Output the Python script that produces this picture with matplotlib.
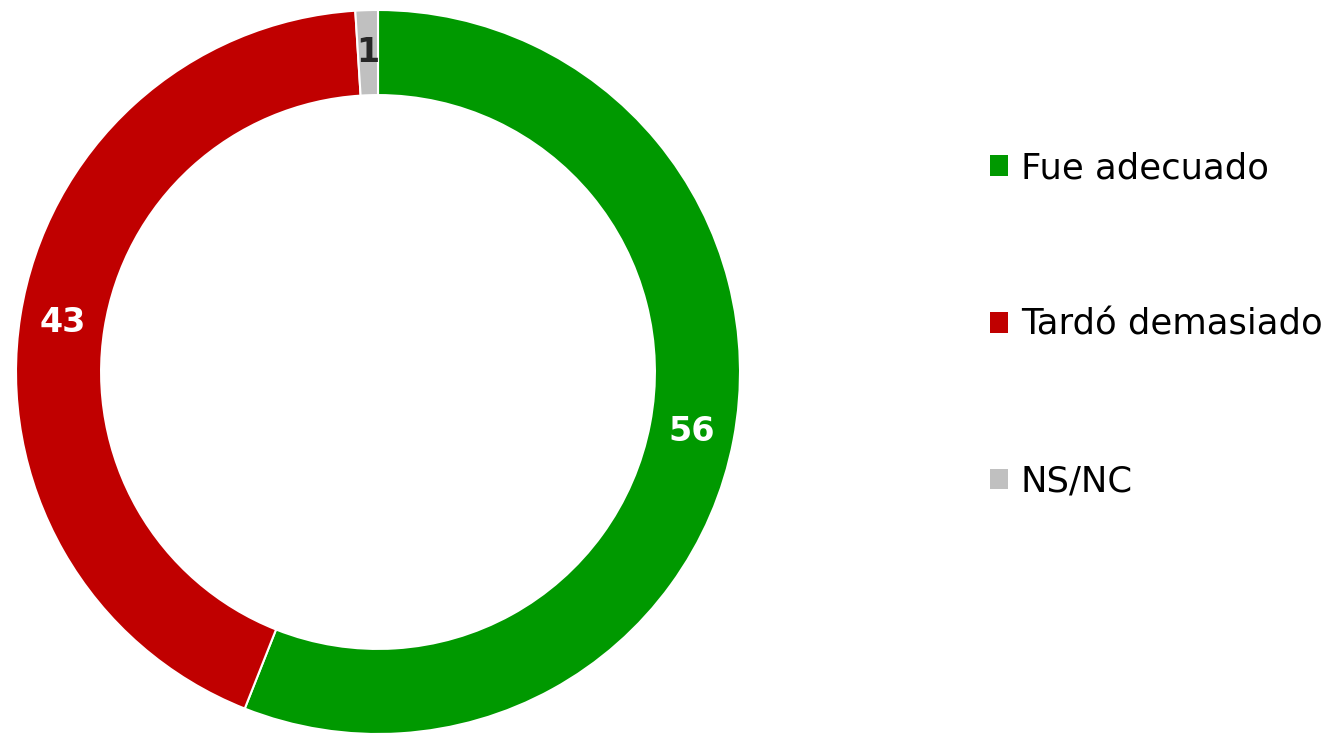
import matplotlib.pyplot as plt
from matplotlib.patches import Patch

categories = ["Fue adecuado", "Tardó demasiado", "NS/NC"]
values = [56, 43, 1]
colors = ["#009900", "#C00000", "#C0C0C0"]
label_colors = ["white", "white", "#262626"]

fig = plt.figure(figsize=(13.27, 7.34), dpi=100)
plt.rcParams['font.family'] = ['DejaVu Sans']

# donut: centre ~ (378, 372) px, outer radius ~362 px
ax = fig.add_axes([16 / 1327, 0 / 734, 724 / 1327, 724 / 734])

wedges, texts, autotexts = ax.pie(
    values, colors=colors, startangle=90, counterclock=False,
    autopct=lambda p: "%d" % round(p), pctdistance=0.882,
    wedgeprops=dict(width=0.235, edgecolor="white", linewidth=1.5),
    radius=1.0)

for t, c in zip(autotexts, label_colors):
    t.set_color(c)
    t.set_fontsize(24)
    t.set_fontweight("bold")

ax.set_xlim(-1, 1)
ax.set_ylim(-1, 1)
ax.set_aspect("equal")
ax.axis("off")

handles = [Patch(facecolor=c, edgecolor="none") for c in colors]
fig.legend(handles, categories, loc="center left",
           bbox_to_anchor=(990 / 1327, 1 - 325 / 734),
           frameon=False, fontsize=25.5, labelspacing=3.47,
           borderpad=0, borderaxespad=0,
           handlelength=0.5, handleheight=0.5, handletextpad=0.37)

fig.savefig("out.png", dpi=100)
